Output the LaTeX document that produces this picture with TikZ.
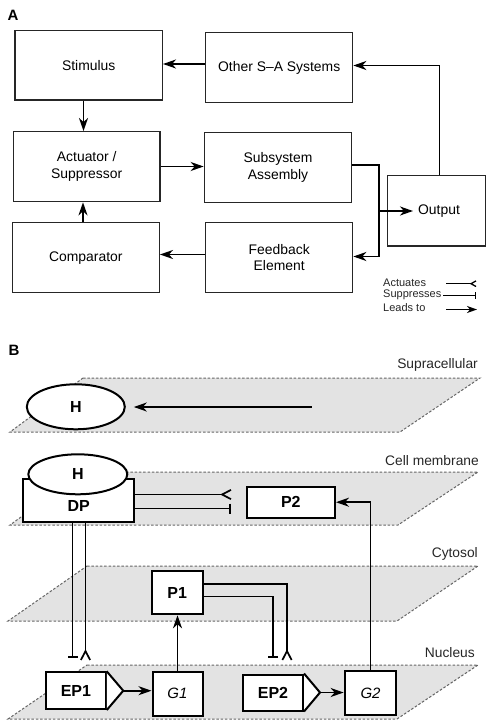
\documentclass[tikz,border=0pt]{standalone}
\usepackage{fontspec}
\setmainfont{Liberation Sans}
\usetikzlibrary{arrows.meta,shapes.geometric}
\definecolor{planegray}{RGB}{227,227,227}
\pgfdeclarearrow{
  name = ForkB,
  setup code = {
    \pgfarrowssettipend{9pt}
    \pgfarrowssetbackend{0pt}
    \pgfarrowssetlineend{0pt}
  },
  drawing code = {
    \pgfsetlinewidth{1.7pt}
    \pgfsetmiterjoin
    \pgfpathmoveto{\pgfqpoint{9pt}{4.6pt}}
    \pgfpathlineto{\pgfpointorigin}
    \pgfpathlineto{\pgfqpoint{9pt}{-4.6pt}}
    \pgfusepathqstroke
  },
  defaults = {}
}
\pgfdeclarearrow{
  name = ForkS,
  setup code = {
    \pgfarrowssettipend{5pt}
    \pgfarrowssetbackend{0pt}
    \pgfarrowssetlineend{0pt}
  },
  drawing code = {
    \pgfsetlinewidth{1.3pt}
    \pgfsetmiterjoin
    \pgfpathmoveto{\pgfqpoint{5pt}{2.8pt}}
    \pgfpathlineto{\pgfpointorigin}
    \pgfpathlineto{\pgfqpoint{5pt}{-2.8pt}}
    \pgfusepathqstroke
  },
  defaults = {}
}
\begin{document}
\begin{tikzpicture}[x=1pt,y=-1pt,
  boxA/.style={draw=black!85, line width=1.3pt, fill=white, align=center, inner sep=0pt,
    font=\fontsize{13.9}{16.6}\selectfont},
  boxB/.style={draw=black, line width=2pt, fill=white, inner sep=0pt,
    font=\fontsize{16}{18}\selectfont\bfseries},
  ell/.style={boxB, ellipse},
  leads/.style={-{Stealth[length=13pt,width=9pt,inset=4pt]}, line width=1.8pt},
  leadsS/.style={-{Stealth[length=10pt,width=7pt,inset=3pt]}, line width=1.3pt},
  actB/.style={-ForkB, line width=1.7pt},
  actS/.style={-ForkS, line width=1.3pt},
  supp/.style={-{Bar[width=10pt]}, line width=1.7pt},
  suppS/.style={-{Bar[width=7pt]}, line width=1.3pt},
  plane/.style={fill=planegray, draw=black!60, dash pattern=on 2.5pt off 1.8pt, line width=1pt},
  lvl/.style={anchor=east, inner sep=0pt, text=black!85, font=\fontsize{13.8}{16}\selectfont},
  panel/.style={inner sep=0pt, font=\fontsize{15}{15}\selectfont\bfseries},
  legend/.style={anchor=west, inner sep=0pt, text=black!85, font=\fontsize{11}{12}\selectfont}
]
\useasboundingbox (0,0) rectangle (490,725);

% ---------------- Panel A ----------------
\node[panel] (lblA) at (13,15) {A};
\node[boxA, minimum width=147.3pt, minimum height=69.3pt] (stim) at (88.7,65.3) {Stimulus};
\node[boxA, minimum width=147pt, minimum height=69.6pt] (other) at (279.2,67.5) {Other S–A Systems};
\node[boxA, minimum width=146.7pt, minimum height=70pt] (act) at (86.7,166.7) {Actuator /\\Suppressor};
\node[boxA, minimum width=147.4pt, minimum height=69.6pt] (sub) at (278,167.5) {Subsystem\\Assembly};
\node[boxA, minimum width=147pt, minimum height=70pt] (comp) at (85.8,257.7) {Comparator};
\node[boxA, minimum width=147pt, minimum height=70pt] (feed) at (279.2,257.7) {Feedback\\Element};
\node[boxA, minimum width=97.6pt, minimum height=70.3pt] (out) at (436.5,210.8) {\hspace*{5pt}Output};

\draw[leads] (other.west |- 0,64) -- (stim.east |- 0,64);
\draw[leads] (stim.south -| 83.5,0) -- (act.north -| 83.5,0);
\draw[leads] (act.east |- 0,166.5) -- (sub.west |- 0,166.5);
\draw[leads] (comp.north -| 83,0) -- (act.south -| 83,0);
\draw[leads] (feed.west |- 0,254.5) -- (comp.east |- 0,254.5);
\coordinate (j) at (379,165);
\coordinate (outtip) at (413,211);
\draw[leads] (sub.east |- j) -- (j) |- (feed.east |- 0,256.5);
\draw[leads] (j |- outtip) -- (outtip);
\draw[leads] (out.north -| 439.5,0) |- (other.east |- 0,65.5);

% legend
\node[legend] (lg1) at (383,282.7) {Actuates};
\node[legend] (lg2) at (383,295) {Suppresses};
\node[legend] (lg3) at (383,307.7) {Leads to};
\coordinate (lg1a) at (446,283.7); \coordinate (lg1b) at (476,283.7);
\coordinate (lg2a) at (443,295.7); \coordinate (lg2b) at (476,295.7);
\coordinate (lg3a) at (446,309.5); \coordinate (lg3b) at (477,309.5);
\draw[actS] (lg1a) -- (lg1b);
\draw[suppS] (lg2a) -- (lg2b);
\draw[leadsS] (lg3a) -- (lg3b);

% ---------------- Panel B ----------------
\node[panel] (lblB) at (14,350) {B};

% planes
\draw[plane] (83,378) -- (480,378) -- (400,432) -- (10,432) -- cycle;
\draw[plane] (83,472) -- (478,472) -- (398,525) -- (10,525) -- cycle;
\draw[plane] (87,566) -- (478,566) -- (397,621) -- (8,621) -- cycle;
\draw[plane] (87,665) -- (478,665) -- (397,719) -- (8,719) -- cycle;

\node[lvl] (l1) at (478,365) {Supracellular};
\node[lvl] (l2) at (479,461) {Cell membrane};
\node[lvl] (l3) at (478,554.3) {Cytosol};
\node[lvl] (l4) at (475,652.3) {Nucleus};

% supracellular
\node[ell, minimum width=98pt, minimum height=45pt] (H1) at (75.8,406.8) {H};
\coordinate (hs) at (311.7,407);
\draw[leads, shorten >=8pt] (hs) -- (H1.east |- hs);

% cell membrane
\node[boxB, minimum width=111pt, minimum height=42.4pt,
  label={[font=\fontsize{16}{18}\selectfont\bfseries, yshift=-5.5pt]center:DP}] (DP) at (78.8,500.5) {};
\node[ell, minimum width=99pt, minimum height=40pt] (H2) at (77.8,474.3) {H};
\node[boxB, minimum width=88.3pt, minimum height=31pt] (P2) at (290.8,502.2) {P2};
\coordinate (dpA) at (231,494.5);
\coordinate (dpS) at (231,508.5);
\draw[actB] (DP.east |- dpA) -- (dpA);
\draw[supp] (DP.east |- dpS) -- (dpS);

% cytosol
\node[boxB, minimum width=50.6pt, minimum height=43.6pt] (P1) at (177.2,592.5) {P1};
\coordinate (p1a) at (287,660);
\coordinate (p1s) at (273,657.5);
\draw[actB] (P1.east |- 0,584) -| (p1a);
\draw[supp] (P1.east |- 0,596.5) -| (p1s);

% DP to nucleus
\coordinate (dpdS) at (72.5,657.5);
\coordinate (dpdA) at (85.5,660);
\draw[supp] (DP.south -| dpdS) -- (dpdS);
\draw[actB] (DP.south -| dpdA) -- (dpdA);

% nucleus
\node[boxB, minimum width=59.7pt, minimum height=36.7pt] (EP1) at (75.9,690.7) {EP1};
\draw[line width=2pt, fill=white, line join=miter] (EP1.north east) -- ([xshift=16.5pt]EP1.east) coordinate (EP1tip) -- (EP1.south east);
\node[boxB, minimum width=50pt, minimum height=44.3pt, font=\fontsize{15}{18}\selectfont\itshape] (G1) at (177.5,693.8) {G1};
\node[boxB, minimum width=60pt, minimum height=36pt] (EP2) at (273,692.5) {EP2};
\draw[line width=2pt, fill=white, line join=miter] (EP2.north east) -- ([xshift=16pt]EP2.east) coordinate (EP2tip) -- (EP2.south east);
\node[boxB, minimum width=51.7pt, minimum height=44.3pt, font=\fontsize{15}{18}\selectfont\itshape] (G2) at (370.5,692.9) {G2};

\draw[leads] (EP1tip) -- (G1.west |- EP1tip);
\draw[leads] (EP2tip) -- (G2.west |- EP2tip);
\draw[leads] (G1.north) -- (P1.south -| G1.north);
\draw[leads] (G2.north) |- (P2.east);
\end{tikzpicture}
\end{document}
